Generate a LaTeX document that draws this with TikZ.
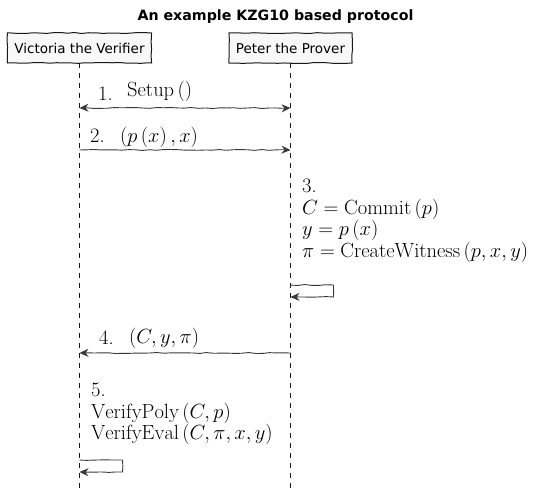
\RequirePackage{fix-cm}
\documentclass[tikz,border=0pt]{standalone}
\usepackage{amsmath}
\usepackage{fontspec}
\newfontfamily\umlfont{DejaVu Sans}
\usetikzlibrary{arrows.meta,positioning,decorations.pathmorphing}
\definecolor{boxfill}{HTML}{F8F8F8}
\definecolor{umlline}{HTML}{181818}
\definecolor{msgline}{HTML}{383838}
\tikzset{
  sketchy/.style={decorate,decoration={random steps,segment length=7pt,amplitude=.5pt}},
  actor/.style={draw=umlline,fill=boxfill,line width=1pt,sketchy,font=\umlfont\fontsize{13.5}{15}\selectfont,inner xsep=7pt,minimum height=30pt},
  lifeline/.style={umlline,line width=.8pt,dash pattern=on 5pt off 5pt},
  msg/.style={msgline,line width=.9pt,sketchy,->},
  msglabel/.style={anchor=base west,inner sep=0pt,font=\fontsize{20.5}{23}\selectfont},
}
\pgfmathsetseed{7}

\begin{document}
\begin{tikzpicture}[x=1pt,y=-1pt,>={Stealth[length=9pt,width=8pt,inset=3pt]}]
	\useasboundingbox (0,0) rectangle (549,502);
	\node[font=\umlfont\bfseries\fontsize{14.2}{16}\selectfont] (title) at (275.5,17) {An example KZG10 based protocol};
	\node[actor] (victoria) at (79.5,48) {Victoria the Verifier};
	\node[actor] (peter) at (290.5,48) {Peter the Prover};
	\coordinate (vend) at (victoria.south |- 0,488);
	\coordinate (pend) at (peter.south |- 0,488);
	\draw[lifeline] (victoria) -- (vend);
	\draw[lifeline] (peter) -- (pend);
	\foreach \n/\y in {1/108,2/150,3a/285,3b/297,4/353,5a/460,5b/472} {
		\coordinate (v\n) at (victoria.south |- 0,\y);
		\coordinate (p\n) at (peter.south |- 0,\y);
	}
	\draw[msg,<->] (v1) -- (p1);
	\draw[msg] (v2) -- (p2);
	\draw[msg] (p3a) -- ++(43,0) |- (p3b);
	\draw[msg] (p4) -- (v4);
	\draw[msg] (v5a) -- ++(43,0) |- (v5b);
	\node[msglabel] (n1) at (98,100.7) {1.};
	\node[msglabel] (l1) at (127,96.7) {$\operatorname{Setup}\left(\right)$};
	\node[msglabel] (n2) at (90,142.7) {2.};
	\node[msglabel] (l2) at (120,142.7) {$\left(p\left(x\right),x\right)$};
	\node[msglabel] (n4) at (99,345) {4.};
	\node[msglabel] (l4) at (129,343.3) {$\left(C,y,\pi\right)$};
	\foreach \t [count=\i] in {3., {$C=\operatorname{Commit}\left(p\right)$}, {$y=p\left(x\right)$}, {$\pi=\operatorname{CreateWitness}\left(p,x,y\right)$}}
		\node[msglabel] (s3-\i) at (302,171.5+21.5*\i) {\t};
	\foreach \t [count=\i] in {5., {$\operatorname{VerifyPoly}\left(C,p\right)$}, {$\operatorname{VerifyEval}\left(C,\pi,x,y\right)$}}
		\node[msglabel] (s5-\i) at (91,375.5+21.5*\i) {\t};
\end{tikzpicture}
\end{document}
